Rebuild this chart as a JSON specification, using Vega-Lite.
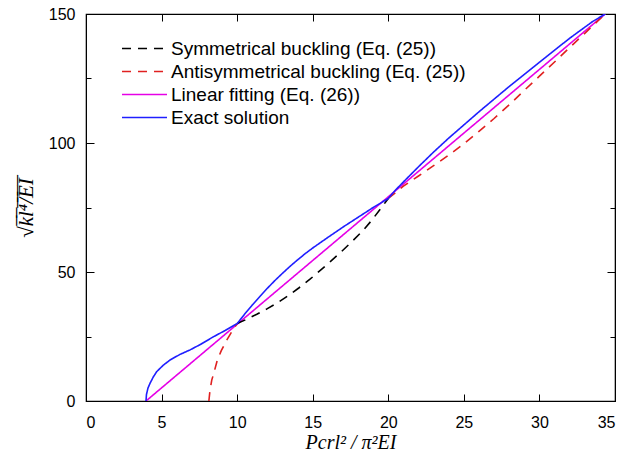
{
  "$schema": "https://vega.github.io/schema/vega-lite/v6.json",
  "width": 529,
  "height": 387,
  "autosize": "none",
  "padding": {"left": 86, "top": 14, "right": 26, "bottom": 59},
  "background": "white",
  "config": {
    "view": {"stroke": "black", "strokeWidth": 1.2},
    "axis": {
      "grid": false,
      "domainColor": "black",
      "tickColor": "black",
      "labelColor": "black",
      "titleColor": "black",
      "labelFont": "Liberation Sans",
      "labelFontSize": 16,
      "titleFont": "Liberation Serif",
      "titleFontStyle": "italic",
      "titleFontWeight": "normal",
      "titleFontSize": 20
    },
    "legend": {
      "title": null,
      "orient": "none",
      "legendX": 46,
      "legendY": 22,
      "padding": 0,
      "symbolType": "M-2,0H2",
      "symbolSize": 506,
      "symbolStrokeWidth": 1.6,
      "labelFont": "Liberation Sans",
      "labelFontSize": 19,
      "labelColor": "black",
      "labelOffset": 14,
      "rowPadding": 0,
      "labelLimit": 400
    }
  },
  "datasets": {
    "curves": [
      {"s": "Linear fitting (Eq. (26))", "seg": "m", "x": 3.97, "y": 0},
      {"s": "Linear fitting (Eq. (26))", "seg": "m", "x": 34.35, "y": 150},

      {"s": "Antisymmetrical buckling (Eq. (25))", "seg": "r1", "x": 8.13, "y": 0},
      {"s": "Antisymmetrical buckling (Eq. (25))", "seg": "r1", "x": 8.2, "y": 4},
      {"s": "Antisymmetrical buckling (Eq. (25))", "seg": "r1", "x": 8.32, "y": 8.1},
      {"s": "Antisymmetrical buckling (Eq. (25))", "seg": "r1", "x": 8.49, "y": 11.5},
      {"s": "Antisymmetrical buckling (Eq. (25))", "seg": "r1", "x": 8.69, "y": 15.9},
      {"s": "Antisymmetrical buckling (Eq. (25))", "seg": "r1", "x": 8.95, "y": 19.5},
      {"s": "Antisymmetrical buckling (Eq. (25))", "seg": "r1", "x": 9.31, "y": 23.6},
      {"s": "Antisymmetrical buckling (Eq. (25))", "seg": "r1", "x": 9.71, "y": 27.5},
      {"s": "Antisymmetrical buckling (Eq. (25))", "seg": "r1", "x": 10.0, "y": 30},
      {"s": "Antisymmetrical buckling (Eq. (25))", "seg": "r2", "x": 20.0, "y": 78.5},
      {"s": "Antisymmetrical buckling (Eq. (25))", "seg": "r2", "x": 21.0, "y": 83.3},
      {"s": "Antisymmetrical buckling (Eq. (25))", "seg": "r2", "x": 22.0, "y": 87.2},
      {"s": "Antisymmetrical buckling (Eq. (25))", "seg": "r2", "x": 23.0, "y": 91.2},
      {"s": "Antisymmetrical buckling (Eq. (25))", "seg": "r2", "x": 24.0, "y": 95.3},
      {"s": "Antisymmetrical buckling (Eq. (25))", "seg": "r2", "x": 25.0, "y": 99.7},
      {"s": "Antisymmetrical buckling (Eq. (25))", "seg": "r2", "x": 26.0, "y": 104.5},
      {"s": "Antisymmetrical buckling (Eq. (25))", "seg": "r2", "x": 27.0, "y": 109.5},
      {"s": "Antisymmetrical buckling (Eq. (25))", "seg": "r2", "x": 28.0, "y": 114.8},
      {"s": "Antisymmetrical buckling (Eq. (25))", "seg": "r2", "x": 29.0, "y": 120.4},
      {"s": "Antisymmetrical buckling (Eq. (25))", "seg": "r2", "x": 30.0, "y": 125.9},
      {"s": "Antisymmetrical buckling (Eq. (25))", "seg": "r2", "x": 31.0, "y": 131.4},
      {"s": "Antisymmetrical buckling (Eq. (25))", "seg": "r2", "x": 32.0, "y": 137.0},
      {"s": "Antisymmetrical buckling (Eq. (25))", "seg": "r2", "x": 33.0, "y": 142.5},
      {"s": "Antisymmetrical buckling (Eq. (25))", "seg": "r2", "x": 34.35, "y": 150},

      {"s": "Symmetrical buckling (Eq. (25))", "seg": "k", "x": 10.0, "y": 30},
      {"s": "Symmetrical buckling (Eq. (25))", "seg": "k", "x": 10.6, "y": 31.6},
      {"s": "Symmetrical buckling (Eq. (25))", "seg": "k", "x": 11.3, "y": 33.6},
      {"s": "Symmetrical buckling (Eq. (25))", "seg": "k", "x": 12.0, "y": 35.8},
      {"s": "Symmetrical buckling (Eq. (25))", "seg": "k", "x": 12.7, "y": 38.2},
      {"s": "Symmetrical buckling (Eq. (25))", "seg": "k", "x": 13.4, "y": 40.9},
      {"s": "Symmetrical buckling (Eq. (25))", "seg": "k", "x": 14.1, "y": 43.9},
      {"s": "Symmetrical buckling (Eq. (25))", "seg": "k", "x": 14.8, "y": 47.1},
      {"s": "Symmetrical buckling (Eq. (25))", "seg": "k", "x": 15.5, "y": 50.6},
      {"s": "Symmetrical buckling (Eq. (25))", "seg": "k", "x": 16.2, "y": 54.2},
      {"s": "Symmetrical buckling (Eq. (25))", "seg": "k", "x": 16.9, "y": 57.9},
      {"s": "Symmetrical buckling (Eq. (25))", "seg": "k", "x": 17.6, "y": 61.8},
      {"s": "Symmetrical buckling (Eq. (25))", "seg": "k", "x": 18.3, "y": 65.9},
      {"s": "Symmetrical buckling (Eq. (25))", "seg": "k", "x": 18.9, "y": 70.0},
      {"s": "Symmetrical buckling (Eq. (25))", "seg": "k", "x": 19.5, "y": 74.6},
      {"s": "Symmetrical buckling (Eq. (25))", "seg": "k", "x": 20.0, "y": 78.5},

      {"s": "Exact solution", "seg": "b", "x": 3.97, "y": 0},
      {"s": "Exact solution", "seg": "b", "x": 4.0, "y": 2.5},
      {"s": "Exact solution", "seg": "b", "x": 4.1, "y": 5},
      {"s": "Exact solution", "seg": "b", "x": 4.24, "y": 6.9},
      {"s": "Exact solution", "seg": "b", "x": 4.45, "y": 9.3},
      {"s": "Exact solution", "seg": "b", "x": 4.68, "y": 11.4},
      {"s": "Exact solution", "seg": "b", "x": 5.1, "y": 13.8},
      {"s": "Exact solution", "seg": "b", "x": 5.56, "y": 15.9},
      {"s": "Exact solution", "seg": "b", "x": 6.2, "y": 18},
      {"s": "Exact solution", "seg": "b", "x": 6.88, "y": 19.8},
      {"s": "Exact solution", "seg": "b", "x": 7.6, "y": 22},
      {"s": "Exact solution", "seg": "b", "x": 8.43, "y": 24.9},
      {"s": "Exact solution", "seg": "b", "x": 9.2, "y": 27.3},
      {"s": "Exact solution", "seg": "b", "x": 10.0, "y": 30},
      {"s": "Exact solution", "seg": "b", "x": 10.5, "y": 33.7},
      {"s": "Exact solution", "seg": "b", "x": 11.0, "y": 37.2},
      {"s": "Exact solution", "seg": "b", "x": 11.5, "y": 40.5},
      {"s": "Exact solution", "seg": "b", "x": 12.0, "y": 43.7},
      {"s": "Exact solution", "seg": "b", "x": 12.5, "y": 46.7},
      {"s": "Exact solution", "seg": "b", "x": 13.0, "y": 49.5},
      {"s": "Exact solution", "seg": "b", "x": 13.5, "y": 52.2},
      {"s": "Exact solution", "seg": "b", "x": 14.0, "y": 54.7},
      {"s": "Exact solution", "seg": "b", "x": 14.5, "y": 57.1},
      {"s": "Exact solution", "seg": "b", "x": 15.0, "y": 59.3},
      {"s": "Exact solution", "seg": "b", "x": 16.0, "y": 63.4},
      {"s": "Exact solution", "seg": "b", "x": 17.0, "y": 67.4},
      {"s": "Exact solution", "seg": "b", "x": 18.0, "y": 71.2},
      {"s": "Exact solution", "seg": "b", "x": 19.0, "y": 75.0},
      {"s": "Exact solution", "seg": "b", "x": 20.0, "y": 78.5},
      {"s": "Exact solution", "seg": "b", "x": 20.5, "y": 81.9},
      {"s": "Exact solution", "seg": "b", "x": 21.0, "y": 84.9},
      {"s": "Exact solution", "seg": "b", "x": 22.0, "y": 90.8},
      {"s": "Exact solution", "seg": "b", "x": 23.0, "y": 96.5},
      {"s": "Exact solution", "seg": "b", "x": 24.0, "y": 101.9},
      {"s": "Exact solution", "seg": "b", "x": 26.0, "y": 112.1},
      {"s": "Exact solution", "seg": "b", "x": 28.0, "y": 121.9},
      {"s": "Exact solution", "seg": "b", "x": 30.0, "y": 131.3},
      {"s": "Exact solution", "seg": "b", "x": 32.0, "y": 140.6},
      {"s": "Exact solution", "seg": "b", "x": 33.5, "y": 147.0},
      {"s": "Exact solution", "seg": "b", "x": 34.35, "y": 150}
    ]
  },
  "layer": [
    {
      "data": {"name": "curves"},
      "mark": {"type": "line", "strokeWidth": 1.6, "clip": true},
      "encoding": {
        "x": {
          "field": "x", "type": "quantitative",
          "scale": {"domain": [0, 35], "nice": false, "zero": false},
          "axis": {
            "values": [0, 5, 10, 15, 20, 25, 30, 35],
            "tickSize": -7, "labelPadding": 20, "domain": true,
            "title": "Pcrl² / π²EI", "titlePadding": 2
          }
        },
        "y": {
          "field": "y", "type": "quantitative",
          "scale": {"domain": [0, 150], "nice": false},
          "axis": {
            "values": [0, 25, 50, 75, 100, 125, 150],
            "labelExpr": "datum.value % 50 === 0 ? datum.label : ''",
            "tickSize": {"condition": {"test": "datum.value % 50 === 0", "value": -8}, "value": -5},
            "labelPadding": 19,
            "title": "√k̅l̅⁴̅/̅E̅I̅", "titlePadding": 12, "titleFontSize": 21
          }
        },
        "color": {
          "field": "s", "type": "nominal",
          "scale": {
            "domain": ["Symmetrical buckling (Eq. (25))", "Antisymmetrical buckling (Eq. (25))", "Linear fitting (Eq. (26))", "Exact solution"],
            "range": ["#000000", "#e02020", "#e600e6", "#1f1fff"]
          }
        },
        "strokeDash": {
          "field": "s", "type": "nominal",
          "scale": {
            "domain": ["Symmetrical buckling (Eq. (25))", "Antisymmetrical buckling (Eq. (25))", "Linear fitting (Eq. (26))", "Exact solution"],
            "range": [[9, 7], [9, 7], [1, 0], [1, 0]]
          }
        },
        "detail": {"field": "seg"}
      }
    },
    {
      "data": {"name": "curves"},
      "mark": {"type": "point", "opacity": 0},
      "encoding": {
        "x": {
          "field": "x", "type": "quantitative",
          "scale": {"domain": [0, 35], "nice": false, "zero": false},
          "axis": {"orient": "top", "values": [0, 5, 10, 15, 20, 25, 30, 35], "tickSize": -7, "labels": false, "title": null}
        },
        "y": {
          "field": "y", "type": "quantitative",
          "scale": {"domain": [0, 150], "nice": false},
          "axis": {
            "orient": "right",
            "values": [0, 25, 50, 75, 100, 125, 150],
            "tickSize": {"condition": {"test": "datum.value % 50 === 0", "value": -8}, "value": -5},
            "labels": false, "title": null
          }
        }
      }
    }
  ],
  "resolve": {"axis": {"x": "independent", "y": "independent"}}
}
